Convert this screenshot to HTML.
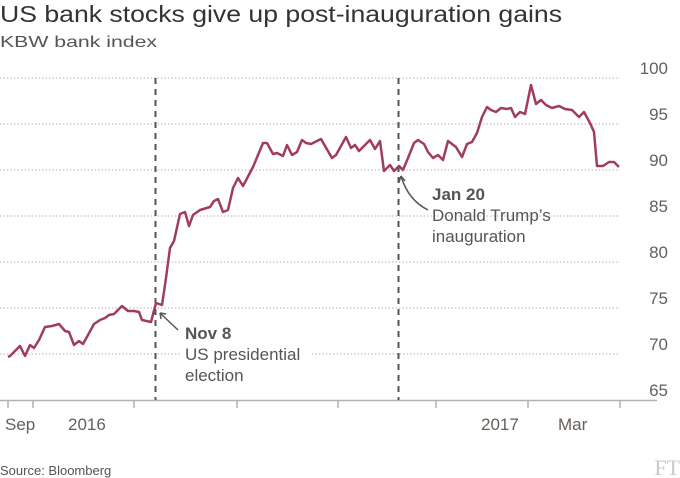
<!DOCTYPE html>
<html><head><meta charset="utf-8"><style>
html,body{margin:0;padding:0;background:#fff;}
svg{display:block;font-family:"Liberation Sans",sans-serif;}
</style></head><body>
<svg width="680" height="478" viewBox="0 0 680 478" xmlns="http://www.w3.org/2000/svg">
<rect width="680" height="478" fill="#fff"/>
<text x="0" y="22" font-size="23" fill="#333" textLength="562" lengthAdjust="spacingAndGlyphs">US bank stocks give up post-inauguration gains</text>
<text x="0" y="47" font-size="16" fill="#555" textLength="157" lengthAdjust="spacingAndGlyphs">KBW bank index</text>
<g stroke="#c9c2bd" stroke-width="1.2" stroke-dasharray="1.5,2">
<line x1="0" y1="78" x2="620" y2="78"/>
<line x1="0" y1="124" x2="620" y2="124"/>
<line x1="0" y1="170" x2="620" y2="170"/>
<line x1="0" y1="216" x2="620" y2="216"/>
<line x1="0" y1="262" x2="620" y2="262"/>
<line x1="0" y1="308" x2="620" y2="308"/>
<line x1="0" y1="354" x2="180" y2="354"/>
<line x1="312" y1="354" x2="620" y2="354"/>
</g>
<g font-size="17" fill="#66605c" text-anchor="end">
<text x="668" y="74">100</text><text x="668" y="120">95</text><text x="668" y="166">90</text>
<text x="668" y="212">85</text><text x="668" y="258">80</text><text x="668" y="304">75</text>
<text x="668" y="350">70</text><text x="668" y="396">65</text>
</g>
<line x1="0" y1="400.5" x2="657" y2="400.5" stroke="#b8b1ab" stroke-width="1.5"/>
<g stroke="#b8b1ab" stroke-width="1.5">
<line x1="8" y1="401" x2="8" y2="408"/><line x1="33" y1="401" x2="33" y2="408"/>
<line x1="134" y1="401" x2="134" y2="408"/><line x1="237" y1="401" x2="237" y2="408"/>
<line x1="338" y1="401" x2="338" y2="408"/><line x1="436" y1="401" x2="436" y2="408"/>
<line x1="528" y1="401" x2="528" y2="408"/><line x1="620" y1="401" x2="620" y2="408"/>
</g>
<g font-size="17" fill="#66605c">
<text x="5" y="430">Sep</text><text x="68" y="430">2016</text>
<text x="481" y="430">2017</text><text x="558" y="430">Mar</text>
</g>
<g stroke="#555" stroke-width="2" stroke-dasharray="6,5">
<line x1="155.5" y1="78" x2="155.5" y2="400"/>
<line x1="398.5" y1="78" x2="398.5" y2="400"/>
</g>
<polyline fill="none" stroke="#a13d5c" stroke-width="2.5" stroke-linejoin="round" points="8,357 10,356 20,346 25,356 30,345 34,348 39,340 45,327 52,326 59,324 65,331 69,332 74,345 79,341 83,344 88,335 94,324 100,320 105,318 109,315 114,314 122,306 128,311 134,311 139,312 142,320 151,322 156,303 162,305 166,278 170,248 174,241 180,214 185,212 189,226 193,215 200,210 210,207 214,201 218,199 223,212 228,210 233,188 238,178 243,186 253,167 263,143 267,143 273,154 277,153 283,156 287,145 292,155 297,152 302,140 306,143 311,144 321,139 332,158 336,155 346,137 351,148 355,145 359,151 370,140 375,149 380,141 384,171 390,165 394,171 399,166 403,170 408,158 414,143 418,140 424,144 428,152 433,158 438,155 443,160 448,141 456,147 462,157 467,144 472,142 477,133 482,117 487,107 491,110 496,112 501,108 507,109 511,108 515,117 520,112 525,114 531,85 536,104 541,100 546,105 552,108 559,106 565,109 572,110 579,117 584,112 590,123 594,132 597,166 603,166 609,162 614,162 619,167"/>
<g stroke="#555" stroke-width="1.5" fill="none">
<path d="M178,330 L160,313"/>
<path d="M160,313 l1,6 M160,313 l6,1"/>
<path d="M428,210 Q408,200 401,176"/>
<path d="M401,176 l-2,6 M401,176 l4,5"/>
</g>
<g font-size="17" fill="#555">
<text x="185" y="339" font-weight="bold">Nov 8</text>
<text x="185" y="360">US presidential</text>
<text x="185" y="381">election</text>
<text x="432" y="200" font-weight="bold">Jan 20</text>
<text x="432" y="221">Donald Trump’s</text>
<text x="432" y="242">inauguration</text>
</g>
<text x="0" y="475" font-size="13" fill="#555">Source: Bloomberg</text>
<text x="680" y="475" font-size="22" fill="#cfc8c2" text-anchor="end" font-family="Liberation Serif,serif">FT</text>
</svg>
</body></html>
